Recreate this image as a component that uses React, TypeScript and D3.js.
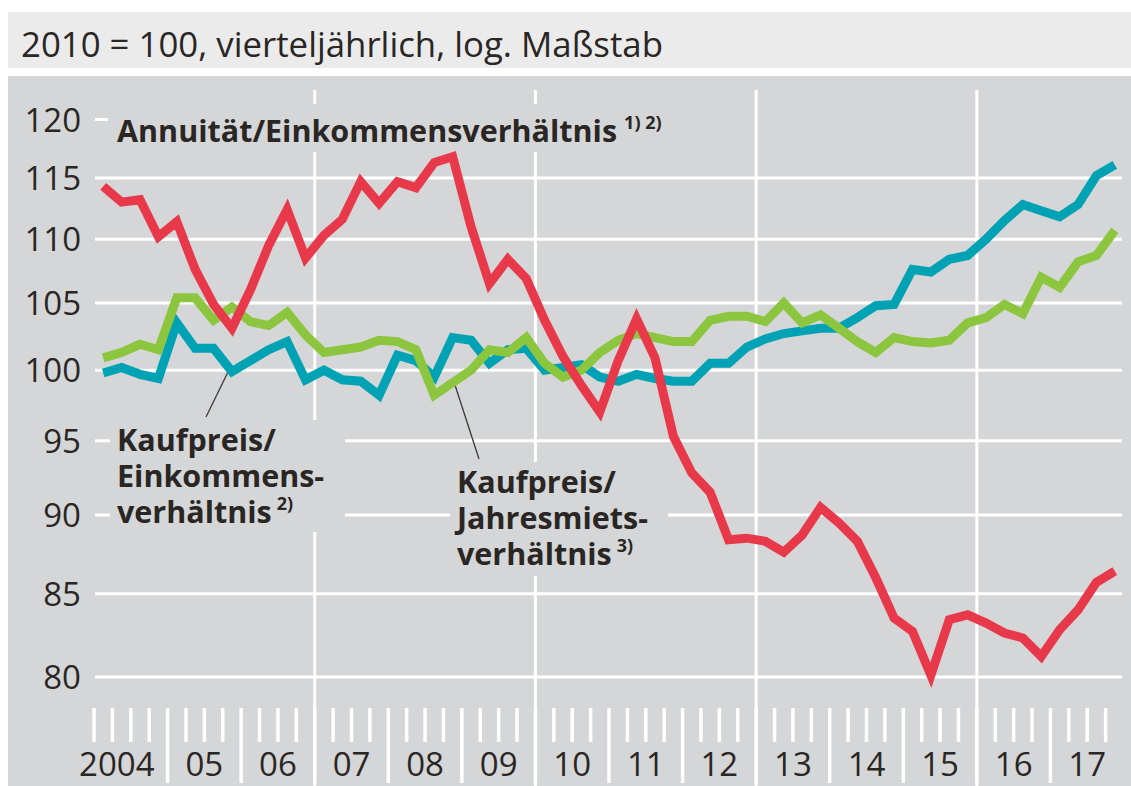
import React from "react";
import * as d3 from "d3";

const yearLabels = ["2004", "05", "06", "07", "08", "09", "10", "11", "12", "13", "14", "15", "16", "17"];
const yTicks = [80, 85, 90, 95, 100, 105, 110, 115, 120];

// Annuität/Einkommensverhältnis (red), 2004Q1..2017Q4
const annuityIncome = [
  114.3, 113.0, 113.2, 110.2, 111.4, 107.6, 104.9, 103.1, 106.0, 109.5,
  112.4, 108.5, 110.3, 111.6, 114.7, 112.9, 114.7, 114.2, 116.3, 116.8,
  111.0, 106.5, 108.4, 106.9, 103.7, 101.0, 98.9, 97.0, 100.7, 103.8,
  100.9, 95.3, 92.8, 91.5, 88.4, 88.5, 88.3, 87.6, 88.7, 90.5,
  89.5, 88.3, 86.0, 83.5, 82.7, 80.1, 83.4, 83.7, 83.2, 82.6,
  82.3, 81.2, 82.8, 84.0, 85.7, 86.4,
];
// Kaufpreis/Einkommensverhältnis (teal)
const priceIncome = [
  99.8, 100.2, 99.7, 99.4, 103.5, 101.6, 101.6, 99.9, 100.7, 101.5,
  102.1, 99.3, 100.0, 99.3, 99.2, 98.2, 101.1, 100.7, 99.5, 102.4,
  102.2, 100.5, 101.5, 101.6, 100.0, 100.2, 100.4, 99.5, 99.2, 99.7,
  99.4, 99.2, 99.2, 100.5, 100.5, 101.7, 102.3, 102.7, 102.9, 103.1,
  103.1, 103.9, 104.8, 104.9, 107.6, 107.4, 108.4, 108.7, 110.0, 111.5,
  112.8, 112.3, 111.8, 112.8, 115.2, 116.1,
];
// Kaufpreis/Jahresmietsverhältnis (green)
const priceRent = [
  100.9, 101.3, 101.9, 101.5, 105.4, 105.4, 103.7, 104.7, 103.6, 103.3,
  104.3, 102.6, 101.3, 101.5, 101.7, 102.2, 102.1, 101.5, 98.2, 99.1,
  100.0, 101.5, 101.3, 102.4, 100.5, 99.5, 100.0, 101.3, 102.2, 102.7,
  102.4, 102.1, 102.1, 103.7, 104.0, 104.0, 103.6, 105.0, 103.5, 104.1,
  103.1, 102.1, 101.3, 102.4, 102.1, 102.0, 102.2, 103.5, 103.9, 104.9,
  104.2, 107.0, 106.2, 108.2, 108.7, 110.7,
];

const W = 1131;
const H = 786;
const RED = "#e8394a";
const TEAL = "#00a2b4";
const GREEN = "#8cc63f";
const BG = "#d5d6d8";
const TXT = "#2a2624";
const FONT = "'Open Sans', 'Noto Sans', sans-serif";

export default function App() {
  const x = d3.scaleLinear().domain([2004, 2018]).range([94, 1124]);
  const y = d3.scaleLog().domain([80, 120]).range([677, 119.5]);
  const tq = (i: number) => 2004 + (i + 0.5) / 4;

  const line = d3
    .line<number>()
    .x((_, i) => x(tq(i)))
    .y((v) => y(v));

  const gridX0 = 95;
  const gridX1 = 1122;
  const quarterTicks = d3.range(0, 56).map((q) => 2004 + q / 4);
  const bigGrid = [2007, 2010, 2013, 2016];

  return (
    <svg
      width={W}
      height={H}
      style={{ position: "absolute", left: 0, top: 0 }}
      fontFamily={FONT}
    >
      <rect x={0} y={0} width={W} height={H} fill="#ffffff" />
      {/* header band */}
      <rect x={8} y={12} width={W - 8} height={56} fill="#ebebec" />
      <text x={21} y={57} fontSize={34.8} fill={TXT}>
        2010 = 100, vierteljährlich, log. Maßstab
      </text>
      {/* plot panel */}
      <rect x={8} y={76} width={W - 8} height={H - 76} fill={BG} />

      {/* horizontal gridlines */}
      {yTicks.map((t) => (
        <line
          key={"h" + t}
          x1={gridX0}
          x2={t === 120 ? 108 : gridX1}
          y1={y(t)}
          y2={y(t)}
          stroke="#fff"
          strokeWidth={3}
        />
      ))}
      {/* vertical gridlines */}
      {bigGrid.map((yr) => (
        <line
          key={"v" + yr}
          x1={x(yr)}
          x2={x(yr)}
          y1={90}
          y2={H}
          stroke="#fff"
          strokeWidth={3}
        />
      ))}
      {/* quarter ticks */}
      {quarterTicks.map((t, i) => {
        const isYear = i % 4 === 0 && i > 0;
        return (
          <line
            key={"q" + i}
            x1={x(t)}
            x2={x(t)}
            y1={708}
            y2={isYear ? 783 : 742}
            stroke="#fff"
            strokeWidth={3.5}
          />
        );
      })}
      {/* y tick labels */}
      {yTicks.map((t) => (
        <text
          key={"yl" + t}
          x={81}
          y={y(t) + 12}
          textAnchor="end"
          fontSize={33}
          fill={TXT}
        >
          {t}
        </text>
      ))}
      {/* x labels */}
      {yearLabels.map((lab, i) => {
        const c = x(2004 + i + 0.5);
        return (
          <text
            key={"xl" + i}
            x={i === 0 ? x(2005) - 13 : c}
            y={776}
            textAnchor={i === 0 ? "end" : "middle"}
            fontSize={33}
            fill={TXT}
          >
            {lab}
          </text>
        );
      })}

      {/* label backgrounds (cover gridlines) */}
      <rect x={110} y={104} width={585} height={48} fill={BG} />
      <rect x={110} y={420} width={235} height={112} fill={BG} />
      <rect x={450} y={462} width={218} height={114} fill={BG} />

      {/* leader lines */}
      <line x1={228} y1={372} x2={206} y2={417} stroke="#3a3a3a" strokeWidth={1.3} />
      <line x1={455} y1={385} x2={479} y2={459} stroke="#3a3a3a" strokeWidth={1.3} />

      {/* series */}
      <path d={line(priceIncome) || ""} fill="none" stroke={TEAL} strokeWidth={9} strokeLinejoin="miter" />
      <path d={line(priceRent) || ""} fill="none" stroke={GREEN} strokeWidth={9} strokeLinejoin="miter" />
      <path d={line(annuityIncome) || ""} fill="none" stroke={RED} strokeWidth={9} strokeLinejoin="miter" />

      {/* series labels */}
      <g fontWeight={700} fontSize={30.5} fill={TXT}>
        <text x={117} y={142}>
          Annuität/Einkommensverhältnis
          <tspan fontSize={18} dy={-13} dx={7}>1) 2)</tspan>
        </text>
        <text x={117} y={451}>
          <tspan x={117} y={451}>Kaufpreis/</tspan>
          <tspan x={117} y={487}>Einkommens-</tspan>
          <tspan x={117} y={523}>verhältnis</tspan>
          <tspan fontSize={18} dy={-13} dx={5}>2)</tspan>
        </text>
        <text x={457} y={493}>
          <tspan x={457} y={493}>Kaufpreis/</tspan>
          <tspan x={457} y={529}>Jahresmiets-</tspan>
          <tspan x={457} y={565}>verhältnis</tspan>
          <tspan fontSize={18} dy={-13} dx={5}>3)</tspan>
        </text>
      </g>
    </svg>
  );
}
